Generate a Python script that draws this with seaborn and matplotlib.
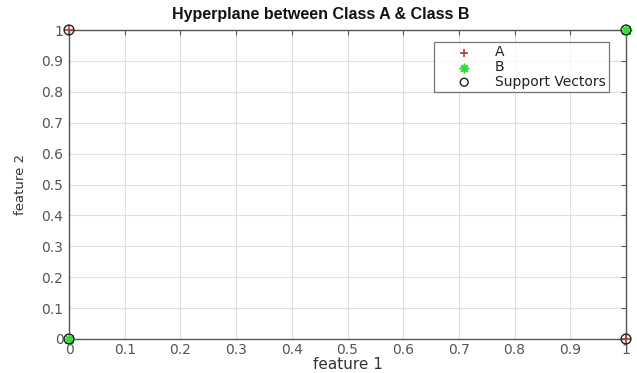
import matplotlib
matplotlib.use("Agg")
import matplotlib.pyplot as plt
import seaborn as sns
import pandas as pd

# XOR-style training points
class_a_x = [0, 1]
class_a_y = [1, 0]
class_b_x = [0, 1]
class_b_y = [0, 1]
sv_x = [0, 1, 0, 1]
sv_y = [1, 0, 0, 1]

x_ticks = [0, 0.1, 0.2, 0.3, 0.4, 0.5, 0.6, 0.7, 0.8, 0.9, 1]
y_ticks = [0, 0.1, 0.2, 0.3, 0.4, 0.5, 0.6, 0.7, 0.8, 0.9, 1]
tick_labels = ["0", "0.1", "0.2", "0.3", "0.4", "0.5", "0.6", "0.7", "0.8", "0.9", "1"]

sns.set_style("white")
plt.rcParams["font.family"] = ["DejaVu Sans"]

W, H = 637, 373
fig = plt.figure(figsize=(W / 100, H / 100), dpi=100)
ax = fig.add_axes([69 / W, 1 - 339 / H, (626 - 69) / W, (339 - 30) / H])

df_a = pd.DataFrame({"x": class_a_x, "y": class_a_y})
df_b = pd.DataFrame({"x": class_b_x, "y": class_b_y})
df_sv = pd.DataFrame({"x": sv_x, "y": sv_y})

sns.scatterplot(data=df_a, x="x", y="y", marker="+", s=55, color="#b03a3a",
                linewidth=1.2, label="A", ax=ax, clip_on=False, zorder=3)
sns.scatterplot(data=df_b, x="x", y="y", marker=(8, 2, 0), s=55,
                color="#33dd33", edgecolor="#33dd33", linewidth=1.2,
                label="B", ax=ax, clip_on=False, zorder=3)
sns.scatterplot(data=df_sv, x="x", y="y", marker="o", s=50, facecolor="none",
                edgecolor="#222222", linewidth=1.0, label="Support Vectors",
                ax=ax, clip_on=False, zorder=4)

ax.set_xlim(0, 1)
ax.set_ylim(0, 1)
ax.set_xticks(x_ticks)
ax.set_yticks(y_ticks)
ax.set_xticklabels(tick_labels)
ax.set_yticklabels(tick_labels)
ax.grid(True, color="#e0e0e0", linewidth=0.8)
ax.set_axisbelow(True)
ax.tick_params(direction="in", length=3.5, width=0.8, colors="#555555",
               labelcolor="#555555", labelsize=10, top=True, right=True)
ax.tick_params(axis="x", pad=3)
ax.tick_params(axis="y", pad=4)
for sp in ax.spines.values():
    sp.set_color("#555555")
    sp.set_linewidth(1.0)
    sp.set_visible(True)

fig.text(321 / W, 1 - 14 / H, "Hyperplane between Class A & Class B",
         ha="center", va="center", fontsize=11.5, fontweight="bold",
         family="Liberation Sans", color="#111111")

ax.set_xlabel("feature 1", fontsize=11, color="#333333")
ax.xaxis.set_label_coords(0.5, -(357 - 339) / (339 - 30))
ax.set_ylabel("feature 2", fontsize=9.5, color="#333333")
ax.yaxis.set_label_coords(-(69 - 27) / (626 - 69), 0.5)

leg = ax.legend(loc="upper right", bbox_to_anchor=(609 / W, 1 - 42 / H),
                bbox_transform=fig.transFigure, frameon=True, fancybox=False,
                fontsize=10, borderpad=0.25, labelspacing=0.05,
                handletextpad=0.3, handlelength=3.8, borderaxespad=0,
                markerscale=0.8)
leg.get_frame().set_edgecolor("#555555")
leg.get_frame().set_linewidth(0.9)
for t in leg.get_texts():
    t.set_color("#222222")

fig.savefig("out.png", dpi=100)
